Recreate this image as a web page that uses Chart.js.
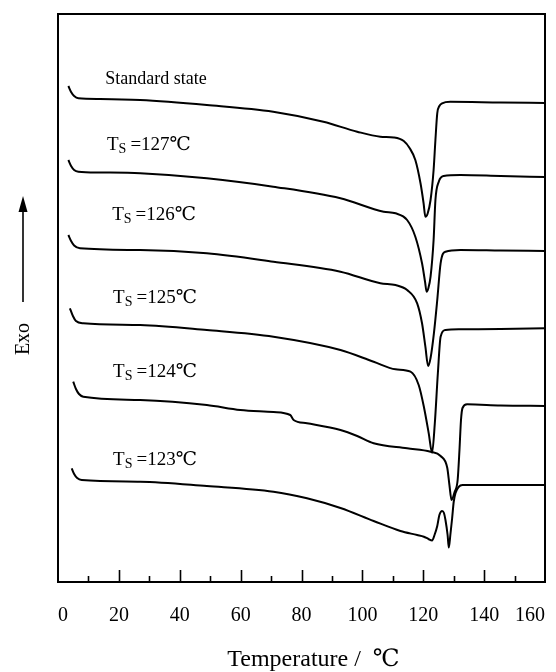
<!DOCTYPE html>
<html><head><meta charset="utf-8">
<script src="https://cdn.jsdelivr.net/npm/chart.js@4.4.0/dist/chart.umd.min.js"></script>
<style>html,body{margin:0;padding:0;background:#fff}#wrap{width:556px;height:672px}</style>
</head><body><div id="wrap"><canvas id="c" width="556" height="672"></canvas></div>
<script>
// ---- data (temperature in °C, heat flow in arbitrary units, exo up) ----
const xTickValues = [0, 20, 40, 60, 80, 100, 120, 140, 160];
const curveNames = ['Standard state', '127', '126', '125', '124', '123'];

const tStd = [3.4,4.3,5.3,6.7,13.8,27.0,48.9,70.7,87.2,98.3,105.9,110.3,113.6,115.5,117.4,119.1,120.1,120.7,121.4,122.4,123.4,124.0,124.6,125.3,126.2,128.9,145.4,160];
const hfStd = [496,490,486,483.7,483,482,477,470.3,460.3,450.3,445.3,444.5,441,434,422,398.7,379,365.3,368,382,412,442,468.7,476,478.7,480.3,479.5,479];

const t127 = [3.4,4.3,5.3,6.7,13.8,27.0,48.9,70.7,92.8,107.0,110.9,114.7,117.4,119.6,120.6,121.1,121.7,122.4,123.4,124.0,125.1,126.7,132.2,145.4,160];
const hf127 = [422,416,412,410.3,409.5,408.7,403.7,395.3,383.7,370.3,368.7,362,345.3,318.7,300,290.3,294,305.3,342,382,400.3,406,407,406,405];

const t126 = [3.4,4.3,5.3,7.2,27.0,48.9,70.8,92.8,105.9,110.9,114.7,118.0,119.6,120.7,121.6,122.4,123.5,124.6,125.7,127.3,132.2,145.4,160];
const hf126 = [347,341,336.5,333.7,332,328.7,320.3,310.3,298.7,297,292,278.7,258.7,235.3,216,224,248.7,282,318.7,330.3,332,331.5,331];

const t125 = [3.9,4.9,5.9,8.3,27.0,48.9,70.8,92.8,103.7,110.9,115.8,118.5,120.2,121.8,122.9,123.8,124.8,125.7,127.3,132.2,145.4,160];
const hf125 = [273.7,266,261,258.7,257,252,245.3,232,220.3,212.7,210.3,197,175.3,148.7,129.3,158.7,208.7,245.3,252,252.7,253,253.7];

const t124 = [5.0,5.9,6.9,8.3,27.0,48.9,59.9,70.8,76.3,77.4,81.8,92.8,98.3,103.7,114.7,122.4,125.7,127.9,128.6,129.3,130.3,131.3,131.9,132.4,132.9,134.4,145.4,160];
const hf124 = [200.3,193,188,185.3,182,177,172,170,167,162,158.7,152,146,138.7,133.7,130.3,126,114,97,82,90,102,132,162,174,177.7,176.5,176];

const t123 = [4.5,5.3,6.3,7.8,27.0,48.9,70.8,81.8,92.8,103.7,112.5,118.0,120.2,121.7,122.9,123.7,124.6,125.3,126.2,126.8,127.3,128.0,128.4,128.9,129.5,130.0,130.6,131.6,132.9,145.4,160];
const hf123 = [113.7,108,104,102,100.3,96,90.3,83.7,74,61,51,47,45.3,43,41.5,47,56,67,71,69,62,47,34.5,47,64,80,89,95,97,97,97];

// ---- build datasets ----
const seriesT = [tStd, t127, t126, t125, t124, t123];
const seriesH = [hfStd, hf127, hf126, hf125, hf124, hf123];
const datasets = seriesT.map((ts, i) => ({
  label: curveNames[i],
  data: ts.map((t, j) => ({x: t, y: seriesH[i][j]})),
  borderColor: '#000',
  borderWidth: 2,
  pointRadius: 0,
  fill: false,
  cubicInterpolationMode: 'monotone'
}));

// label anchors (left edge x in °C, vertical centre in data units)
const labelAnchors = [[15.5, 503], [16.1, 437], [17.8, 367], [18.1, 284], [18.1, 210], [18.1, 122]];

const SERIF = "'Liberation Serif', 'DejaVu Serif', serif";

const decor = {
  id: 'decor',
  afterDraw(chart) {
    const {ctx, chartArea: a, scales: {x, y}} = chart;
    ctx.save();
    // frame
    ctx.strokeStyle = '#000';
    ctx.lineWidth = 2;
    ctx.strokeRect(a.left, a.top, a.right - a.left, a.bottom - a.top);
    // inward ticks
    ctx.lineWidth = 1.6;
    for (let v = 10; v < 160; v += 10) {
      const px = Math.round(x.getPixelForValue(v)) + 0.5;
      const len = (v % 20 === 0) ? 12 : 6;
      ctx.beginPath();
      ctx.moveTo(px, a.bottom);
      ctx.lineTo(px, a.bottom - len);
      ctx.stroke();
    }
    // curve labels
    ctx.fillStyle = '#000';
    ctx.textBaseline = 'middle';
    ctx.textAlign = 'left';
    curveNames.forEach((name, i) => {
      const lx = x.getPixelForValue(labelAnchors[i][0]);
      const ly = y.getPixelForValue(labelAnchors[i][1]);
      if (i === 0) {
        ctx.font = '18px ' + SERIF;
        ctx.fillText(name, lx, ly);
      } else {
        ctx.font = '19px ' + SERIF;
        ctx.fillText('T', lx, ly);
        let w = ctx.measureText('T').width;
        ctx.font = '14px ' + SERIF;
        ctx.fillText('S', lx + w, ly + 4);
        w += ctx.measureText('S').width + 4;
        ctx.font = '19px ' + SERIF;
        ctx.fillText('=' + name + '\u2103', lx + w, ly);
      }
    });
    // Exo label with arrow
    ctx.save();
    ctx.translate(24, 339);
    ctx.rotate(-Math.PI / 2);
    ctx.font = '20px ' + SERIF;
    ctx.textAlign = 'center';
    ctx.textBaseline = 'middle';
    ctx.fillText('Exo', 0, 0);
    ctx.restore();
    ctx.lineWidth = 1.6;
    ctx.beginPath();
    ctx.moveTo(23, 302);
    ctx.lineTo(23, 210);
    ctx.stroke();
    ctx.beginPath();
    ctx.moveTo(23, 196);
    ctx.lineTo(18.5, 212);
    ctx.lineTo(27.5, 212);
    ctx.closePath();
    ctx.fill();
    ctx.restore();
  }
};

new Chart(document.getElementById('c'), {
  type: 'line',
  data: {datasets},
  options: {
    responsive: false,
    animation: false,
    devicePixelRatio: 1,
    layout: {padding: {top: 14, right: 11, bottom: 0, left: 0}},
    plugins: {legend: {display: false}, tooltip: {enabled: false}},
    scales: {
      x: {
        type: 'linear',
        min: 0, max: 160,
        afterBuildTicks(s) { s.ticks = xTickValues.map(v => ({value: v})); },
        afterFit(s) { s.height = 90; s.paddingLeft = 0; s.paddingRight = 0; },
        grid: {display: false, drawTicks: false},
        border: {display: false},
        ticks: {
          padding: 22,
          color: '#000',
          align: 'inner',
          font: {family: SERIF, size: 20},
          maxRotation: 0,
          autoSkip: false
        },
        title: {
          display: true,
          text: '    Temperature /  \u2103',
          color: '#000',
          font: {family: SERIF, size: 24, lineHeight: 1},
          padding: {top: 0, bottom: 0}
        }
      },
      y: {
        type: 'linear',
        min: 0, max: 568,
        afterFit(s) { s.width = 58; s.paddingTop = 0; s.paddingBottom = 0; },
        grid: {display: false, drawTicks: false},
        border: {display: false},
        ticks: {display: false}
      }
    }
  },
  plugins: [decor]
});
</script>
</body></html>
